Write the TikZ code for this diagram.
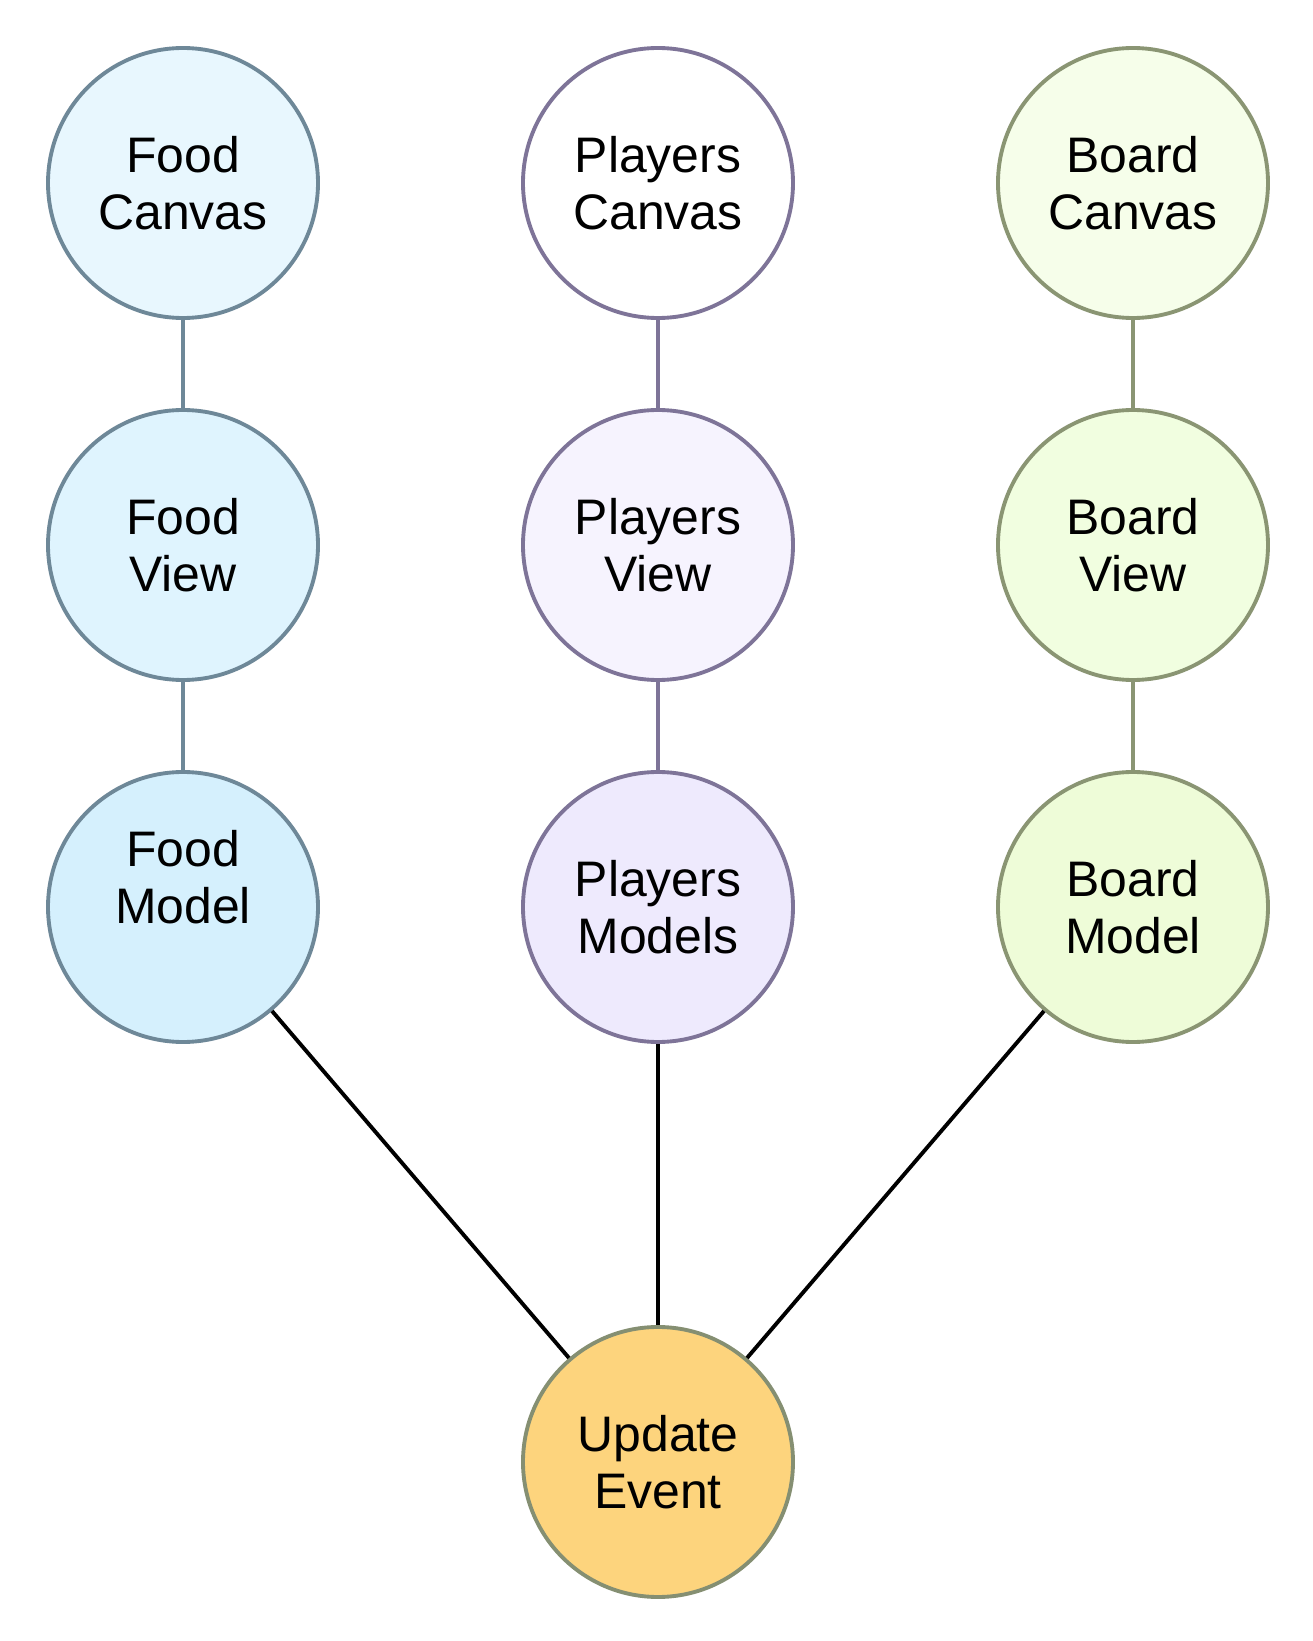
\documentclass[tikz,border=0pt]{standalone}
\usepackage{fontspec}
\setmainfont{Liberation Sans}
\usepackage{tikz}

\definecolor{foodline}{HTML}{6E8898}
\definecolor{playline}{HTML}{7E7498}
\definecolor{boardline}{HTML}{8A9573}
\definecolor{eventline}{HTML}{858F72}

\tikzset{
  circ/.style={circle, minimum size=2.7cm, inner sep=0pt, line width=1.1pt,
    align=center, font=\fontsize{14.2}{16.2}\selectfont},
  food/.style={circ, draw=foodline},
  play/.style={circ, draw=playline},
  board/.style={circ, draw=boardline},
  link/.style={line width=1.1pt},
}

\begin{document}
\begin{tikzpicture}
          \useasboundingbox (0, 0) rectangle (13.12, 16.41);

          % Food
          \node [food, fill={rgb,255:red,232;green,247;blue,254}] (foodcanvas)
            at (1.83, 14.58) {Food\\Canvas};
          \node [food, fill={rgb,255:red,223;green,244;blue,254}] (foodview)
            at (1.83, 10.96) {Food\\View};
          \node [food, fill={rgb,255:red,213;green,240;blue,253},
            label={[yshift=0.3cm, align=center, font=\fontsize{14.2}{16.2}\selectfont]center:Food\\Model}]
            (foodmodel) at (1.83, 7.34) {};

          % Players
          \node [play, fill=white] (playcanvas)
            at (6.58, 14.58) {Players\\Canvas};
          \node [play, fill={rgb,255:red,246;green,243;blue,254}] (playview)
            at (6.58, 10.96) {Players\\View};
          \node [play, fill={rgb,255:red,238;green,234;blue,253}] (playmodel)
            at (6.58, 7.34) {Players\\Models};

          % Board
          \node [board, fill={rgb,255:red,246;green,254;blue,234}] (boardcanvas)
            at (11.33, 14.58) {Board\\Canvas};
          \node [board, fill={rgb,255:red,241;green,254;blue,224}] (boardview)
            at (11.33, 10.96) {Board\\View};
          \node [board, fill={rgb,255:red,238;green,252;blue,216}] (boardmodel)
            at (11.33, 7.34) {Board\\Model};

          % Event
          \node [circ, draw=eventline, fill={rgb,255:red,253;green,212;blue,125}]
            (event) at (6.58, 1.79) {Update\\Event};

          \draw [link, foodline] (foodcanvas) -- (foodview);
          \draw [link, foodline] (foodview) -- (foodmodel);
          \draw [link, playline] (playcanvas) -- (playview);
          \draw [link, playline] (playview) -- (playmodel);
          \draw [link, boardline] (boardcanvas) -- (boardview);
          \draw [link, boardline] (boardview) -- (boardmodel);
          \draw [link] (foodmodel) -- (event);
          \draw [link] (playmodel) -- (event);
          \draw [link] (boardmodel) -- (event);
        \end{tikzpicture}
\end{document}
